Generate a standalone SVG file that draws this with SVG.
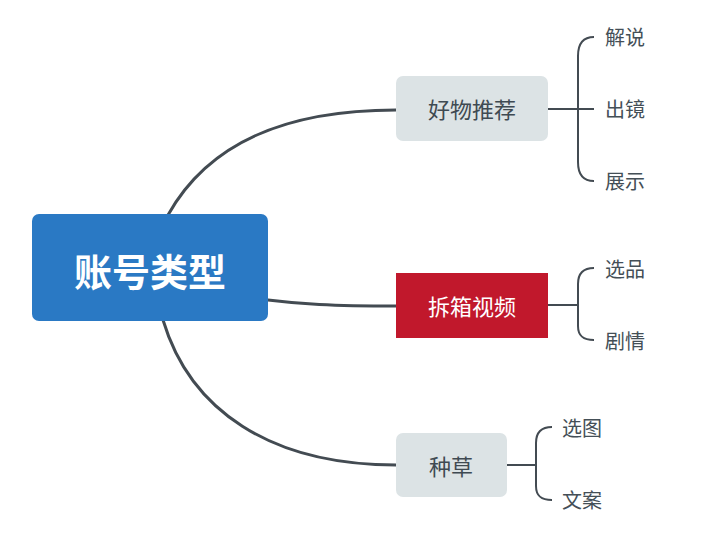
<svg xmlns="http://www.w3.org/2000/svg" width="701" height="535" viewBox="0 0 701 535">
<style>
.t{font-family:"Noto Sans CJK SC","Noto Sans",sans-serif;dominant-baseline:central}
.leaf{font-size:20px;fill:#444f57}
.sub{font-size:22px;text-anchor:middle}
.ln{fill:none;stroke:#434b52;stroke-width:3;stroke-linecap:round}
.br{fill:none;stroke:#434b52;stroke-width:2}
</style>
<rect width="701" height="535" fill="#fff"/>
<g id="connectors">
<path class="ln" d="M168,215 C210,140 290,110 396,110"/>
<path class="ln" d="M268,300 C300,304 330,306 396,306"/>
<path class="ln" d="M163,320 C190,410 270,465 396,465"/>
<path class="br" d="M548,109 L594,109 M594,37 C583,37 578,43 578,56 L578,162 C578,175 583,181 594,181"/>
<path class="br" d="M548,305 L578,305 M594,268 C583,268 578,273 578,284 L578,326 C578,336 583,340 594,340"/>
<path class="br" d="M507,465 L536,465 M552,427 C541,427 536,432 536,443 L536,486 C536,496 541,500 552,500"/>
</g>
<g id="root">
<rect x="32" y="214" width="236" height="107" rx="7" fill="#2a79c4"/>
<text class="t" x="150" y="269" font-size="38" font-weight="bold" fill="#fff" text-anchor="middle">账号类型</text>
</g>
<g id="n1">
<rect x="396" y="76" width="152" height="65" rx="7" fill="#dce3e5"/>
<text class="t sub" x="472" y="108" fill="#3f4a52">好物推荐</text>
</g>
<g id="n2">
<rect x="396" y="273" width="152" height="65" fill="#c1182c"/>
<text class="t sub" x="472" y="305" fill="#fff">拆箱视频</text>
</g>
<g id="n3">
<rect x="396" y="433" width="111" height="64" rx="7" fill="#dce3e5"/>
<text class="t sub" x="451" y="465" fill="#3f4a52">种草</text>
</g>
<g id="leaves">
<text class="t leaf" x="605" y="36">解说</text>
<text class="t leaf" x="605" y="108">出镜</text>
<text class="t leaf" x="605" y="180">展示</text>
<text class="t leaf" x="605" y="268">选品</text>
<text class="t leaf" x="605" y="340">剧情</text>
<text class="t leaf" x="562" y="427">选图</text>
<text class="t leaf" x="562" y="499">文案</text>
</g>
</svg>
